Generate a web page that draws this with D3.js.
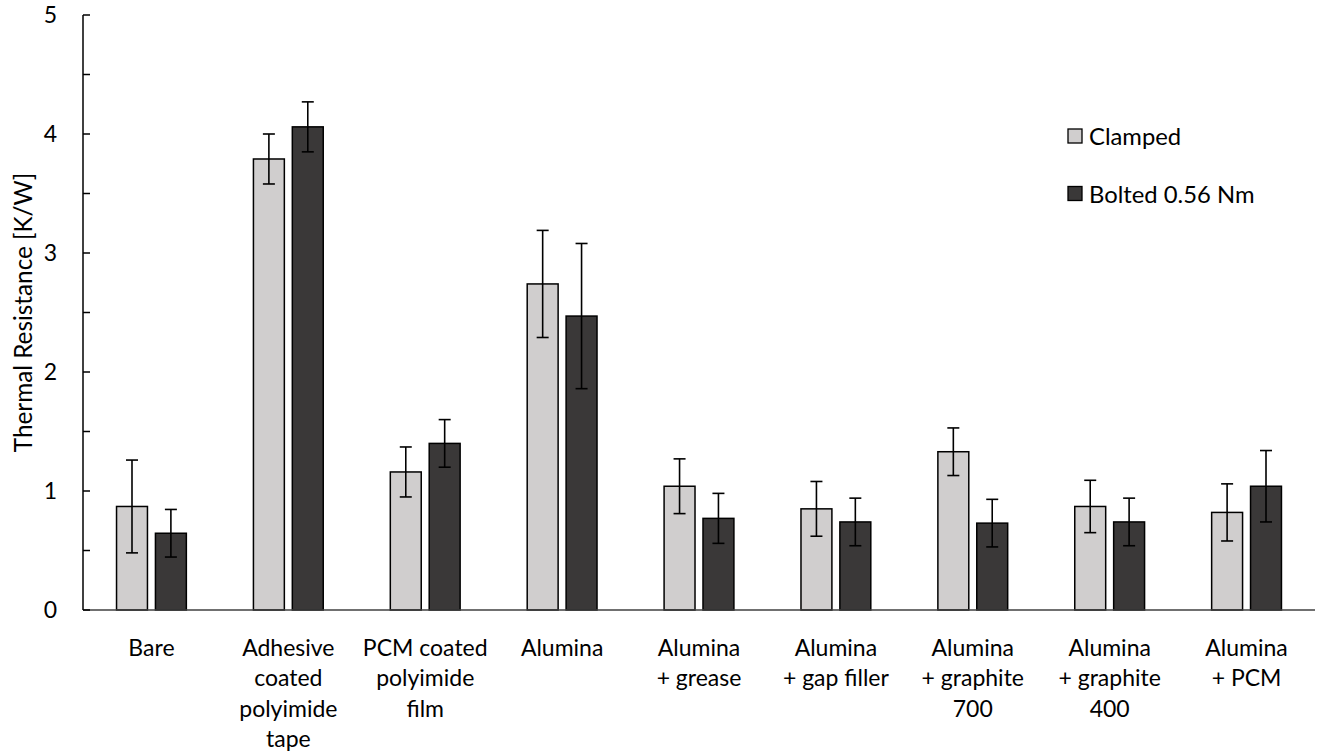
<!DOCTYPE html>
<html>
<head>
<meta charset="utf-8">
<script src="https://cdn.jsdelivr.net/npm/d3@7"></script>
<style>
  body { margin: 0; background: #fff; }
  svg { display: block; font-family: Lato, "Open Sans", sans-serif; }
</style>
</head>
<body>
<div id="chart"></div>
<script>
// categories (label lines)
var categories = [
  ["Bare"],
  ["Adhesive", "coated", "polyimide", "tape"],
  ["PCM coated", "polyimide", "film"],
  ["Alumina"],
  ["Alumina", "+ grease"],
  ["Alumina", "+ gap filler"],
  ["Alumina", "+ graphite", "700"],
  ["Alumina", "+ graphite", "400"],
  ["Alumina", "+ PCM"]
];
var seriesNames = ["Clamped", "Bolted 0.56 Nm"];

// mean thermal resistance [K/W]
var clamped = [0.87, 3.79, 1.16, 2.74, 1.04, 0.85, 1.33, 0.87, 0.82];
var bolted  = [0.645, 4.06, 1.40, 2.47, 0.77, 0.74, 0.73, 0.74, 1.04];
// error bar half-lengths
var clampedErr = [0.39, 0.21, 0.21, 0.45, 0.23, 0.23, 0.20, 0.22, 0.24];
var boltedErr  = [0.20, 0.21, 0.20, 0.61, 0.21, 0.20, 0.20, 0.20, 0.30];

var yTicks = [0, 1, 2, 3, 4, 5];
var yMinorTicks = [0, 0.5, 1, 1.5, 2, 2.5, 3, 3.5, 4, 4.5, 5];

var colors = ["#d0cece", "#3a3838"];

var W = 1328, H = 755;
var margin = {top: 15, right: 13, bottom: 145, left: 83};
var width = W - margin.left - margin.right,
    height = H - margin.top - margin.bottom;

var svg = d3.select("#chart").append("svg")
    .attr("width", W)
    .attr("height", H);

var g = svg.append("g")
    .attr("transform", "translate(" + margin.left + "," + margin.top + ")");

var idx = d3.range(categories.length);

var x0 = d3.scaleBand()
    .domain(idx)
    .range([0, width])
    .paddingInner(0.49)
    .paddingOuter(0.245);

var x1 = d3.scaleBand()
    .domain([0, 1])
    .range([0, x0.bandwidth()])
    .paddingInner(0.205);

var y = d3.scaleLinear()
    .domain([0, 5])
    .range([height, 0]);

// build rows from the arrays
var rows = idx.map(function(i) {
  return [
    {cat: i, s: 0, v: clamped[i], e: clampedErr[i]},
    {cat: i, s: 1, v: bolted[i], e: boltedErr[i]}
  ];
});

// bars
var groups = g.selectAll(".grp")
  .data(rows)
  .enter().append("g")
    .attr("transform", function(d, i) { return "translate(" + x0(i) + ",0)"; });

groups.selectAll("rect")
  .data(function(d) { return d; })
  .enter().append("rect")
    .attr("x", function(d) { return x1(d.s); })
    .attr("y", function(d) { return y(d.v); })
    .attr("width", x1.bandwidth())
    .attr("height", function(d) { return y(0) - y(d.v); })
    .attr("fill", function(d) { return colors[d.s]; })
    .attr("stroke", "#000")
    .attr("stroke-width", 1.5);

// error bars
var eb = groups.selectAll(".err")
  .data(function(d) { return d; })
  .enter().append("g")
    .attr("class", "err")
    .attr("stroke", "#000")
    .attr("stroke-width", 1.6);

var cap = 6;
eb.append("line")
    .attr("x1", function(d) { return x1(d.s) + x1.bandwidth() / 2; })
    .attr("x2", function(d) { return x1(d.s) + x1.bandwidth() / 2; })
    .attr("y1", function(d) { return y(d.v - d.e); })
    .attr("y2", function(d) { return y(d.v + d.e); });
eb.append("line")
    .attr("x1", function(d) { return x1(d.s) + x1.bandwidth() / 2 - cap; })
    .attr("x2", function(d) { return x1(d.s) + x1.bandwidth() / 2 + cap; })
    .attr("y1", function(d) { return y(d.v + d.e); })
    .attr("y2", function(d) { return y(d.v + d.e); });
eb.append("line")
    .attr("x1", function(d) { return x1(d.s) + x1.bandwidth() / 2 - cap; })
    .attr("x2", function(d) { return x1(d.s) + x1.bandwidth() / 2 + cap; })
    .attr("y1", function(d) { return y(d.v - d.e); })
    .attr("y2", function(d) { return y(d.v - d.e); });

// x axis line
g.append("line")
    .attr("x1", 0).attr("x2", width)
    .attr("y1", y(0)).attr("y2", y(0))
    .attr("stroke", "#404040")
    .attr("stroke-width", 1.4);

// y axis: ticks point inward, labels only on integers
var yAxis = g.append("g");
yAxis.append("line")
    .attr("x1", 0).attr("x2", 0)
    .attr("y1", y(5)).attr("y2", y(0))
    .attr("stroke", "#000")
    .attr("stroke-width", 1.5);
yAxis.selectAll(".tk")
  .data(yMinorTicks)
  .enter().append("line")
    .attr("x1", 0).attr("x2", 7)
    .attr("y1", function(d) { return y(d); })
    .attr("y2", function(d) { return y(d); })
    .attr("stroke", "#000")
    .attr("stroke-width", 1.5);
yAxis.selectAll(".lbl")
  .data(yTicks)
  .enter().append("text")
    .attr("x", -26)
    .attr("y", function(d) { return y(d); })
    .attr("dy", "0.36em")
    .attr("text-anchor", "end")
    .attr("font-size", 23)
    .attr("fill", "#000")
    .text(function(d) { return d; });

// y title
svg.append("text")
    .attr("transform", "translate(32," + (margin.top + height / 2) + ") rotate(-90)")
    .attr("text-anchor", "middle")
    .attr("font-size", 24.3)
    .attr("fill", "#000")
    .text("Thermal Resistance [K/W]");

// category labels
var cl = g.selectAll(".cat")
  .data(categories)
  .enter().append("text")
    .attr("text-anchor", "middle")
    .attr("font-size", 23)
    .attr("fill", "#000")
    .attr("transform", function(d, i) {
      return "translate(" + (x0(i) + x0.bandwidth() / 2) + "," + (y(0) + 46) + ")";
    });
cl.selectAll("tspan")
  .data(function(d) { return d; })
  .enter().append("tspan")
    .attr("x", 0)
    .attr("y", function(d, j) { return j * 30.3; })
    .text(function(d) { return d; });

// legend
var leg = svg.append("g")
    .attr("transform", "translate(1068,129)");
var li = leg.selectAll("g")
  .data(seriesNames)
  .enter().append("g")
    .attr("transform", function(d, i) { return "translate(0," + (i * 57.5) + ")"; });
li.append("rect")
    .attr("width", 14).attr("height", 14)
    .attr("fill", function(d, i) { return colors[i]; })
    .attr("stroke", "#000")
    .attr("stroke-width", 1.3);
li.append("text")
    .attr("x", 21)
    .attr("y", 16)
    .attr("font-size", 23.8)
    .attr("fill", "#000")
    .text(function(d) { return d; });
</script>
</body>
</html>
